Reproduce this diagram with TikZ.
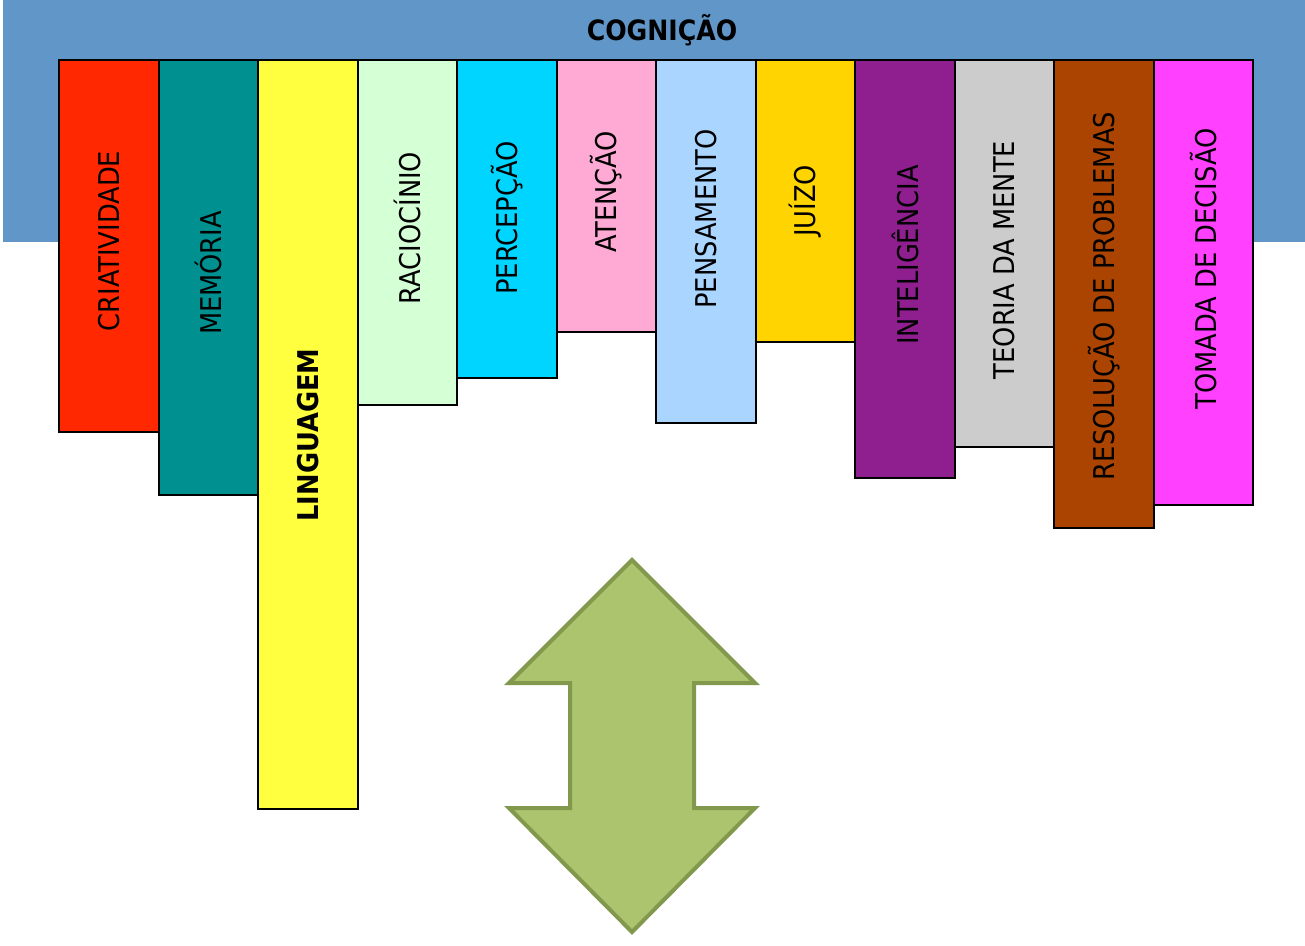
\documentclass[tikz,border=0pt]{standalone}
\usepackage{fontspec}
\setmainfont{DejaVu Sans Condensed}
\definecolor{faixa}{HTML}{6096C8}
\definecolor{vermelho}{HTML}{FF2800}
\definecolor{verdeazul}{HTML}{009090}
\definecolor{amarelo}{HTML}{FFFF40}
\definecolor{verdeclaro}{HTML}{D5FFD5}
\definecolor{ciano}{HTML}{00D5FF}
\definecolor{rosa}{HTML}{FFAAD5}
\definecolor{azulclaro}{HTML}{AAD5FF}
\definecolor{ouro}{HTML}{FFD400}
\definecolor{roxo}{HTML}{8F1F8F}
\definecolor{cinza}{HTML}{CCCCCC}
\definecolor{marrom}{HTML}{AA4400}
\definecolor{magenta2}{HTML}{FF40FF}
\definecolor{setafundo}{HTML}{ABC46D}
\definecolor{setaborda}{HTML}{82994D}
\tikzset{
	coluna/.style={draw=black, line width=1pt},
	rotulo/.style={rotate=90, inner sep=0pt, font=\fontsize{14.3}{16}\selectfont},
	seta/.style={fill=setafundo, draw=setaborda, line width=2pt, line join=miter}
}
\begin{document}
\begin{tikzpicture}[x=0.5pt,y=-0.5pt]
			\useasboundingbox (0,0) rectangle (1305,946);
			\fill[faixa] (3,0) rectangle (1305,242);
			\node[font=\bfseries\fontsize{14}{16}\selectfont] (titulo) at (662,30) {COGNIÇÃO};
			\foreach \i/\cor/\fundo/\ty/\txt in {1/vermelho/432/241/CRIATIVIDADE, 2/verdeazul/495/273/MEMÓRIA,
				3/amarelo/809/435/{\bfseries LINGUAGEM}, 4/verdeclaro/405/228/RACIOCÍNIO, 5/ciano/378/218/PERCEPÇÃO,
				6/rosa/332/192/ATENÇÃO, 7/azulclaro/423/219/PENSAMENTO, 8/ouro/342/201/JUÍZO,
				9/roxo/478/255/INTELIGÊNCIA, 10/cinza/447/260/TEORIA DA MENTE,
				11/marrom/528/296/RESOLUÇÃO DE PROBLEMAS, 12/magenta2/505/269/TOMADA DE DECISÃO}{
				\draw[coluna, fill=\cor] ({59+99.5*(\i-1)},60) rectangle ({59+99.5*\i},\fundo);
				\node[rotulo] (t\i) at ({109+99.5*(\i-1)},\ty) {\txt};
			}
			% seta dupla
			\draw[seta] (632,560) -- (755,683) -- (694,683) -- (694,808) -- (755,808) -- (632,932)
				-- (509,808) -- (570,808) -- (570,683) -- (509,683) -- cycle;
		\end{tikzpicture}
\end{document}
